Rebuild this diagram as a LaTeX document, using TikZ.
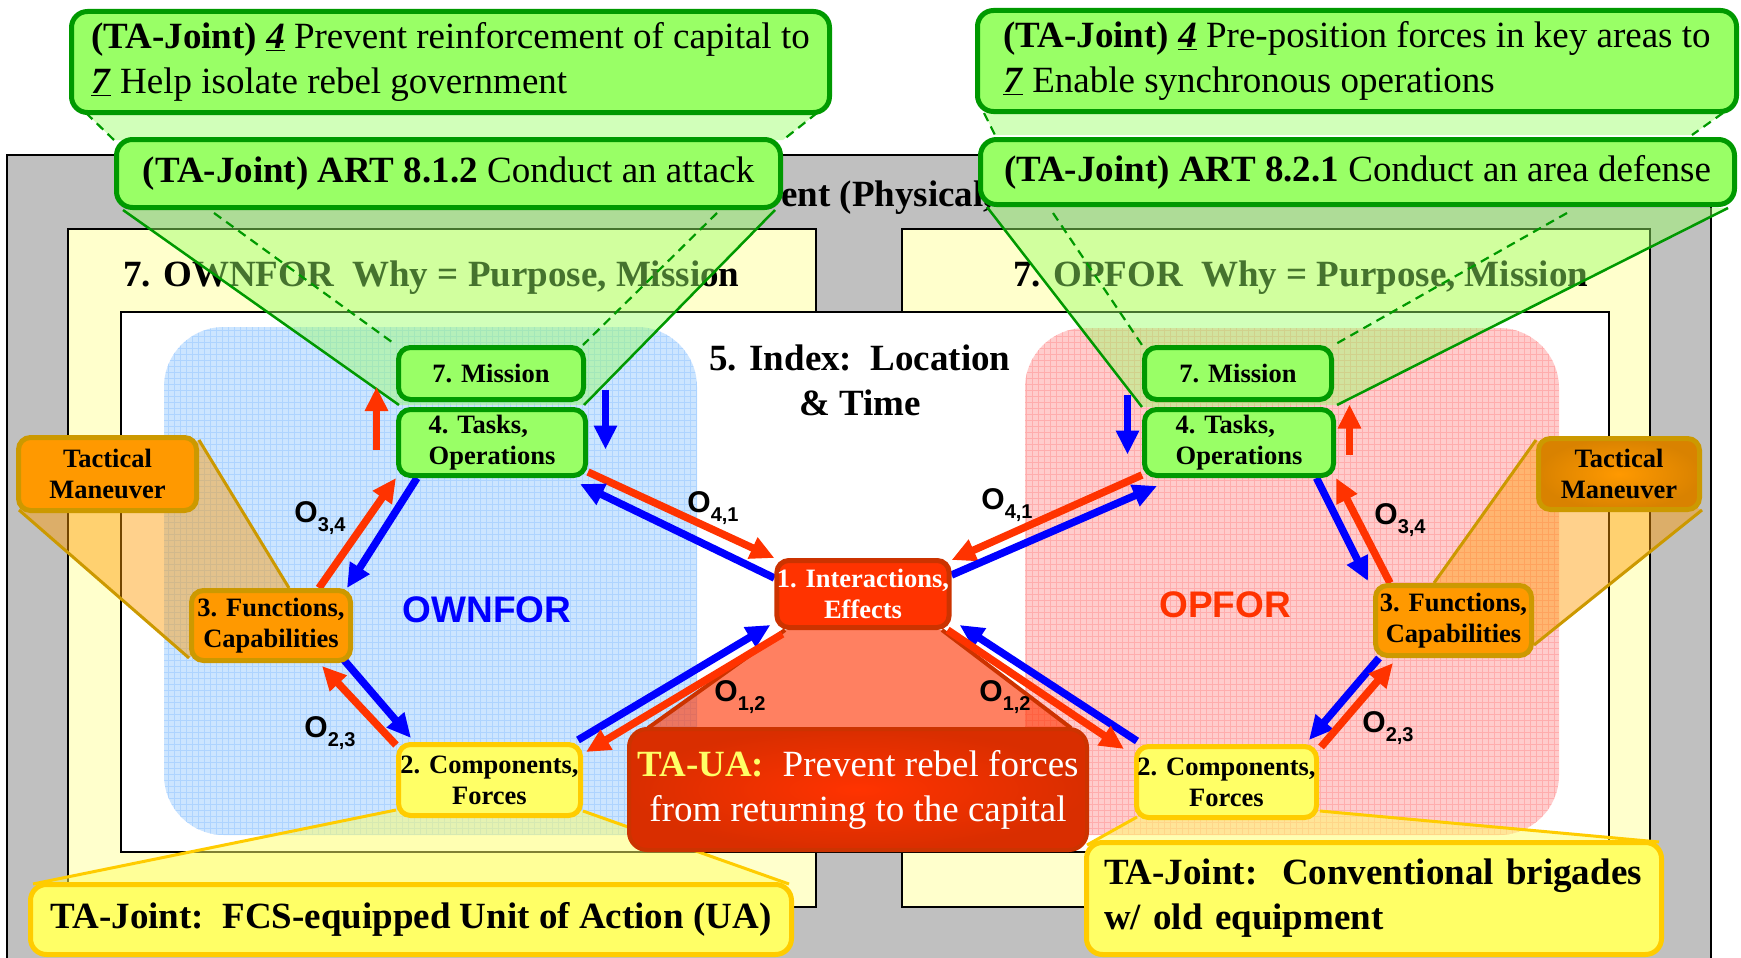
\documentclass[tikz,border=0pt]{standalone}
\usepackage{fontspec}
\setmainfont{Liberation Serif}
\newfontfamily\arialf{Liberation Sans}
\usetikzlibrary{arrows.meta}
\pgfdeclarelayer{bg}\pgfdeclarelayer{mid}
\pgfsetlayers{bg,mid,main}
\definecolor{ggfill}{HTML}{99FF66}
\definecolor{ggdraw}{HTML}{009900}
\definecolor{oofill}{HTML}{FF9900}
\definecolor{oodark}{HTML}{D98200}
\definecolor{oodraw}{HTML}{CC9900}
\definecolor{yyfill}{HTML}{FFFF66}
\definecolor{yydraw}{HTML}{FFCC00}
\definecolor{rrfill}{HTML}{FF3300}
\definecolor{rrdark}{HTML}{D92E00}
\definecolor{rrdraw}{HTML}{CC3300}
\definecolor{arred}{HTML}{FF3300}
\definecolor{arblue}{HTML}{0000FF}
\definecolor{graybg}{HTML}{C0C0C0}
\definecolor{paleyel}{HTML}{FFFFCC}
\definecolor{regblue}{HTML}{CCE5FF}
\definecolor{regbluegrid}{HTML}{AED4FF}
\definecolor{regred}{HTML}{FFCCCC}
\definecolor{regredgrid}{HTML}{FFADAD}
\definecolor{tayel}{HTML}{FFFF66}
\newcommand\mynodefont{\fontsize{26.5}{31}\selectfont\bfseries}
\newcommand\mybigfont{\fontsize{37}{45}\selectfont}
\newcommand\osub[1]{\raisebox{-9pt}{\fontsize{20}{20}\selectfont #1}}
\begin{document}
\begin{tikzpicture}[x=1pt,y=-1pt,
  gbox/.style={draw=ggdraw, fill=ggfill, line width=5pt, rounded corners=12pt, inner sep=0pt, font=\mynodefont, align=center},
  obox/.style={draw=oodraw, fill=oofill, line width=5pt, rounded corners=12pt, inner sep=0pt, font=\mynodefont, align=center},
  ybox/.style={draw=yydraw, fill=yyfill, line width=5pt, rounded corners=12pt, inner sep=0pt, font=\mynodefont, align=center},
  ibox/.style={draw=rrdraw, fill=rrfill, line width=5pt, rounded corners=12pt, inner sep=0pt, font=\mynodefont, align=center, text=white},
  gbig/.style={draw=ggdraw, fill=ggfill, line width=5pt, rounded corners=16pt, inner sep=0pt, font=\mybigfont},
  ybig/.style={draw=yydraw, fill=yyfill, line width=5pt, rounded corners=16pt, inner sep=0pt, font=\mybigfont},
  redarr/.style={draw=arred, line width=7.5pt, -{Triangle[length=24pt,width=22pt]}},
  bluarr/.style={draw=arblue, line width=7.5pt, -{Triangle[length=24pt,width=22pt]}},
  olab/.style={font=\arialf\bfseries\fontsize{30}{30}\selectfont, inner sep=0pt},
  gfun/.style={fill=ggfill, fill opacity=0.45},
  gsolid/.style={draw=ggdraw, line width=2.5pt},
  gdash/.style={draw=ggdraw, line width=2.2pt, dash pattern=on 9pt off 6pt},
  ofun/.style={fill=oofill, fill opacity=0.45},
  oline/.style={draw=oodraw, line width=3pt},
  yfun/.style={fill=yyfill, fill opacity=0.5},
  yline/.style={draw=yydraw, line width=3pt},
  rfun/.style={fill=rrfill, fill opacity=0.62},
  rline/.style={draw=rrdraw, line width=4pt},
  frame/.style={draw=black, line width=1.5pt}
]
\useasboundingbox (0,0) rectangle (1741,958);

% ---------------- background layer ----------------
\begin{pgfonlayer}{bg}
\fill[white] (0,0) rectangle (1741,958);
\path[frame, fill=graybg] (7,155) rectangle (1711,965);
\node[anchor=base west, inner sep=0pt, font=\mybigfont\bfseries] (envt) at (781,206) {ent (Physical,};
\path[frame, fill=paleyel] (68,229) rectangle (816,907);
\path[frame, fill=paleyel] (902,229) rectangle (1650,907);
\node[anchor=base west, inner sep=0pt, font=\mybigfont\bfseries] (hdL) at (123,286) {7. OWNFOR\ \ Why = Purpose, Mission};
\node[anchor=base west, inner sep=0pt, font=\mybigfont\bfseries] (hdR) at (1013,286) {7. OPFOR\ \ Why = Purpose, Mission};
\path[frame, fill=white] (121,312) rectangle (1609,852);
\fill[regblue, rounded corners=60pt] (164,327) rectangle (697,835);
\begin{scope}
\clip[rounded corners=60pt] (164,327) rectangle (697,835);
\draw[regbluegrid, line width=0.5pt, step=6pt] (164,327) grid (697,835);
\end{scope}
\fill[regred, rounded corners=60pt] (1025,328) rectangle (1559,835);
\begin{scope}
\clip[rounded corners=60pt] (1025,328) rectangle (1559,835);
\draw[regredgrid, line width=0.5pt, step=6pt] (1025,328) grid (1559,835);
\end{scope}
\node[inner sep=0pt, font=\mybigfont\bfseries, align=center] (idx) at (860,380) {5. Index:\ \ Location\\\& Time};
\end{pgfonlayer}

% ---------------- nodes ----------------
\node[gbox, minimum width=185, minimum height=52] (m7L) at (491,373.5) {7. Mission};
\node[gbox, minimum width=187, minimum height=66, align=left] (t4L) at (492,442.5) {4. Tasks,\\Operations};
\node[gbox, minimum width=187, minimum height=52] (m7R) at (1238,373.5) {7. Mission};
\node[gbox, minimum width=189, minimum height=66, align=left] (t4R) at (1239,442.5) {4. Tasks,\\Operations};
\node[ibox, minimum width=171, minimum height=67] (i1) at (863,594) {1. Interactions,\\Effects};
\node[obox, minimum width=159, minimum height=70] (f3L) at (271,625.5) {3. Functions,\\Capabilities};
\node[obox, minimum width=178, minimum height=73] (tmL) at (107.5,474) {Tactical\\Maneuver};
\node[ybox, minimum width=182, minimum height=71] (c2L) at (489.5,780) {2. Components,\\Forces};
\node[obox, minimum width=156, minimum height=70] (f3R) at (1453.5,620.5) {3. Functions,\\Capabilities};
\node[obox, minimum width=161, minimum height=71, shading=radial, inner color=oofill, outer color=oodark] (tmR) at (1619,474) {Tactical\\Maneuver};
\node[ybox, minimum width=180, minimum height=71] (c2R) at (1226.5,782) {2. Components,\\Forces};

\node[draw=rrdraw, line width=4pt, rounded corners=18pt, shading=radial, inner color=rrfill, outer color=rrdark,
      minimum width=458, minimum height=121, inner sep=0pt, font=\mybigfont, align=center, text=white] (taua) at (858,789.5)
      {\textcolor{tayel}{\bfseries TA-UA:}\ \ Prevent rebel forces\\from returning to the capital};
\node[ybig, minimum width=761, minimum height=70, align=center] (bL) at (411,919.5) {\bfseries TA-Joint:\ \ FCS-equipped Unit of Action (UA)};
\node[ybig, minimum width=575, minimum height=112, align=left, text width=540] (bR) at (1374,898.5) {\bfseries TA-Joint:\ \ Conventional brigades\\\bfseries w/ old equipment};

\node[gbig, minimum width=664, minimum height=68, align=center] (artL) at (448.5,173.5) {\bfseries (TA-Joint) ART 8.1.2 \mdseries Conduct an attack};
\node[gbig, minimum width=754, minimum height=65, align=center] (artR) at (1357.5,172) {\bfseries (TA-Joint) ART 8.2.1 \mdseries Conduct an area defense};
\node[gbig, minimum width=758, minimum height=101, align=left] (topL) at (450.5,62)
  {\textbf{(TA-Joint)} \underline{\textbf{\textit{4}}} Prevent reinforcement of capital to\\\underline{\textbf{\textit{7}}} Help isolate rebel government};
\node[gbig, minimum width=759, minimum height=101, align=left] (topR) at (1357,61)
  {\textbf{(TA-Joint)} \underline{\textbf{\textit{4}}} Pre-position forces in key areas to\\\underline{\textbf{\textit{7}}} Enable synchronous operations};

\node[font=\arialf\bfseries\fontsize{37}{37}\selectfont, text=arblue, inner sep=0pt] (ownlab) at (487,610) {OWNFOR};
\node[font=\arialf\bfseries\fontsize{37}{37}\selectfont, text=arred, inner sep=0pt] (oplab) at (1225,605) {OPFOR};

\node[olab] (o34L) at (320,518) {O\osub{3,4}};
\node[olab] (o41L) at (713,508) {O\osub{4,1}};
\node[olab] (o23L) at (330,733) {O\osub{2,3}};
\node[olab] (o12L) at (740,697) {O\osub{1,2}};
\node[olab] (o41R) at (1007,505) {O\osub{4,1}};
\node[olab] (o34R) at (1400,520) {O\osub{3,4}};
\node[olab] (o23R) at (1388,728) {O\osub{2,3}};
\node[olab] (o12R) at (1005,697) {O\osub{1,2}};

% ---------------- funnels and arrows ----------------
\begin{pgfonlayer}{mid}
% green callouts
\fill[gfun] (86,113) -- (817,113) -- (783,140) -- (114,140) -- cycle;
\draw[gdash] (86,113) -- (114,140);
\draw[gdash] (817,113) -- (783,140);
\fill[gfun] (984,113) -- (1723,113) -- (1692,135) -- (995,135) -- cycle;
\draw[gdash] (984,113) -- (995,135);
\draw[gdash] (1723,113) -- (1692,135);
\fill[gfun] (123,210) -- (775,210) -- (584,405) -- (399,405) -- cycle;
\draw[gsolid] (123,210) -- (399,405);
\draw[gsolid] (775,210) -- (584,405);
\draw[gdash] (214,213) -- (396,345);
\draw[gdash] (717,213) -- (583,345);
\fill[gfun] (987,207) -- (1728,208) -- (1337,405) -- (1142,407) -- cycle;
\draw[gsolid] (987,207) -- (1142,407);
\draw[gsolid] (1728,208) -- (1337,405);
\draw[gdash] (1053,213) -- (1142,345);
\draw[gdash] (1567,213) -- (1334,345);
% orange callouts
\fill[ofun] (19,510) -- (199,440) -- (289,588) -- (189,658) -- cycle;
\draw[oline] (19,510) -- (189,658);
\draw[oline] (199,440) -- (289,588);
\fill[ofun] (1536,440) -- (1702,510) -- (1534,645) -- (1434,583) -- cycle;
\draw[oline] (1536,440) -- (1434,583);
\draw[oline] (1702,510) -- (1534,645);
% yellow callouts
\fill[yfun] (396,810) -- (583,811) -- (789,884) -- (33,884) -- cycle;
\draw[yline] (396,810) -- (33,884);
\draw[yline] (583,811) -- (789,884);
\fill[yfun] (1137,817) -- (1320,811) -- (1659,842) -- (1087,845) -- cycle;
\draw[yline] (1137,817) -- (1087,845);
\draw[yline] (1320,811) -- (1659,842);
% red callout
\fill[rfun] (785,630) -- (942,630) -- (1071,728) -- (648,728) -- cycle;
\draw[rline] (785,630) -- (648,728);
\draw[rline] (942,630) -- (1071,728);

% OWNFOR arrows
\draw[redarr] ([shift={(48,0)}]f3L.north) -- (t4L.south west);
\draw[bluarr] ([shift={(-75,0)}]t4L.south) -- ([shift={(-6,0)}]f3L.north east);
\draw[redarr] ([shift={(0,-6)}]t4L.south east) -- (i1.north west);
\draw[bluarr] ([shift={(0,20)}]i1.north west) -- ([shift={(-8,6)}]t4L.south east);
\draw[redarr] ([shift={(0,3)}]c2L.north west) -- ([shift={(51,3)}]f3L.south);
\draw[bluarr] ([shift={(73,-3)}]f3L.south) -- ([shift={(15,-4)}]c2L.north west);
\draw[bluarr] ([shift={(-5,-2)}]c2L.north east) -- ([shift={(-4,-5)}]i1.south west);
\draw[redarr] ([shift={(8,4)}]i1.south west) -- ([shift={(3,10)}]c2L.north east);
\draw[redarr] ([shift={(-19.5,48)}]m7L.south west) -- ([shift={(-19.5,-15)}]m7L.south west);
\draw[bluarr] ([shift={(19.5,-12.5)}]m7L.south east) -- ([shift={(17.5,42.5)}]t4L.north east);
% OPFOR arrows
\draw[redarr] ([shift={(0,-3)}]t4R.south west) -- ([shift={(0,2)}]i1.north east);
\draw[bluarr] ([shift={(0,17)}]i1.north east) -- ([shift={(15,8)}]t4R.south west);
\draw[bluarr] ([shift={(-19.5,0)}]t4R.south east) -- ([shift={(-5,-2)}]f3R.north west);
\draw[redarr] ([shift={(17,0)}]f3R.north west) -- (t4R.south east);
\draw[bluarr] ([shift={(6,0)}]f3R.south west) -- ([shift={(-10,-4)}]c2R.north east);
\draw[redarr] ([shift={(2,3)}]c2R.north east) -- ([shift={(20,5)}]f3R.south west);
\draw[bluarr] ([shift={(3,-3)}]c2R.north west) -- ([shift={(8,-5)}]i1.south east);
\draw[redarr] ([shift={(-4,0)}]i1.south east) -- ([shift={(-10,5)}]c2R.north west);
\draw[bluarr] ([shift={(-14.5,-7.5)}]m7R.south west) -- ([shift={(-14.5,47.5)}]t4R.north west);
\draw[redarr] ([shift={(13.5,47.5)}]t4R.north east) -- ([shift={(15.5,2.5)}]m7R.south east);
\end{pgfonlayer}
\end{tikzpicture}
\end{document}
